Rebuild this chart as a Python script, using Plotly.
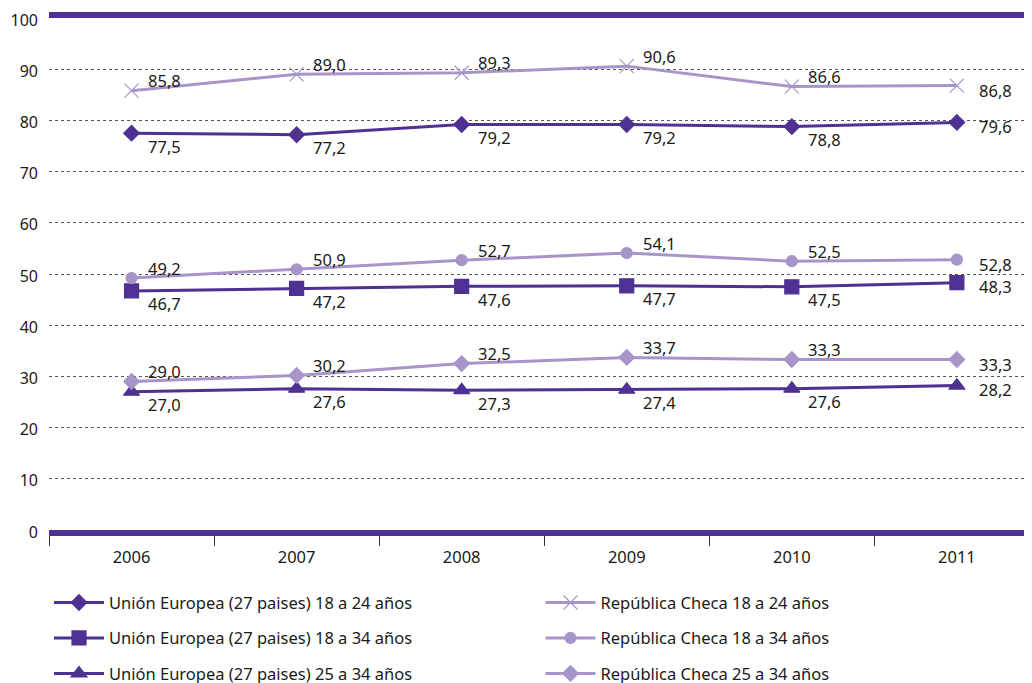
import plotly.graph_objects as go

anios = ["2006", "2007", "2008", "2009", "2010", "2011"]

ue_18_24 = [77.5, 77.2, 79.2, 79.2, 78.8, 79.6]
ue_18_34 = [46.7, 47.2, 47.6, 47.7, 47.5, 48.3]
ue_25_34 = [27.0, 27.6, 27.3, 27.4, 27.6, 28.2]
cz_18_24 = [85.8, 89.0, 89.3, 90.6, 86.6, 86.8]
cz_18_34 = [49.2, 50.9, 52.7, 54.1, 52.5, 52.8]
cz_25_34 = [29.0, 30.2, 32.5, 33.7, 33.3, 33.3]

oscuro = "#4e3192"
claro = "#a794c9"
fuente = "Noto Sans"
tam_txt = 16.5

# desplazamiento de las etiquetas (px): encima o debajo del punto, el último a la derecha
arriba = ([10] * 5 + [-5], [14] * 5 + [20])
abajo = ([-13] * 5 + [-4], [14] * 5 + [20])

series = [
    ("Unión Europea (27 paises) 18 a 24 años", ue_18_24, oscuro, "diamond", 12, abajo, "legend"),
    ("Unión Europea (27 paises) 18 a 34 años", ue_18_34, oscuro, "square", 14, abajo, "legend"),
    ("Unión Europea (27 paises) 25 a 34 años", ue_25_34, oscuro, "triangle-up", 14, abajo, "legend"),
    ("República Checa 18 a 24 años", cz_18_24, claro, "x-thin-open", 14, arriba, "legend2"),
    ("República Checa 18 a 34 años", cz_18_34, claro, "circle", 11, arriba, "legend2"),
    ("República Checa 25 a 34 años", cz_25_34, claro, "diamond", 12, arriba, "legend2"),
]

fig = go.Figure()
for nombre, valores, color, simbolo, tam, desp, ley in series:
    fig.add_trace(go.Scatter(
        x=anios, y=valores, name=nombre, mode="lines+markers",
        line=dict(color=color, width=3),
        marker=dict(symbol=simbolo, size=tam, color=color,
                    line=dict(color=color, width=1.2)),
        legend=ley, legendgroup=nombre,
    ))
    # etiquetas de valor, posicion por indice de categoria
    for i, (v, dy, dx) in enumerate(zip(valores, desp[0], desp[1])):
        fig.add_annotation(
            x=i, y=v, text=f"{v:.1f}".replace(".", ","), showarrow=False,
            xanchor="left", yanchor="middle", xshift=dx, yshift=dy,
            font=dict(family=fuente, size=tam_txt, color="#1a1a1a"),
        )

# la pagina deja 8 px de margen alrededor del grafico
fig.update_layout(
    width=1032, height=683,
    margin=dict(l=41, r=8, t=10, b=161, autoexpand=False),
    plot_bgcolor="white", paper_bgcolor="white",
    font=dict(family=fuente, size=tam_txt, color="#1a1a1a"),
    legend=dict(x=0.0, y=-0.108, xanchor="left", yanchor="top",
                orientation="v", tracegroupgap=11, itemwidth=50,
                font=dict(family=fuente, size=tam_txt, color="#1a1a1a")),
    legend2=dict(x=0.5, y=-0.108, xanchor="left", yanchor="top",
                 orientation="v", tracegroupgap=11, itemwidth=50,
                 font=dict(family=fuente, size=tam_txt, color="#1a1a1a")),
)

fig.update_xaxes(
    type="category", range=[-0.5, 5.455], automargin=False,
    showline=True, linewidth=6, linecolor=oscuro, mirror=True,
    ticks="outside", tickson="boundaries", ticklen=10, tickcolor="#333",
    showgrid=False, tickfont=dict(size=tam_txt), ticklabelstandoff=7,
)
fig.update_yaxes(
    range=[0, 100], dtick=10, showline=False, zeroline=False, automargin=False,
    showgrid=True, gridcolor="#555", griddash="dot", gridwidth=1,
    ticks="", tickfont=dict(size=16), ticklabelstandoff=10,
    ticklabeloverflow="allow", ticklabelshift=2,
)

fig.write_html("out.html")
